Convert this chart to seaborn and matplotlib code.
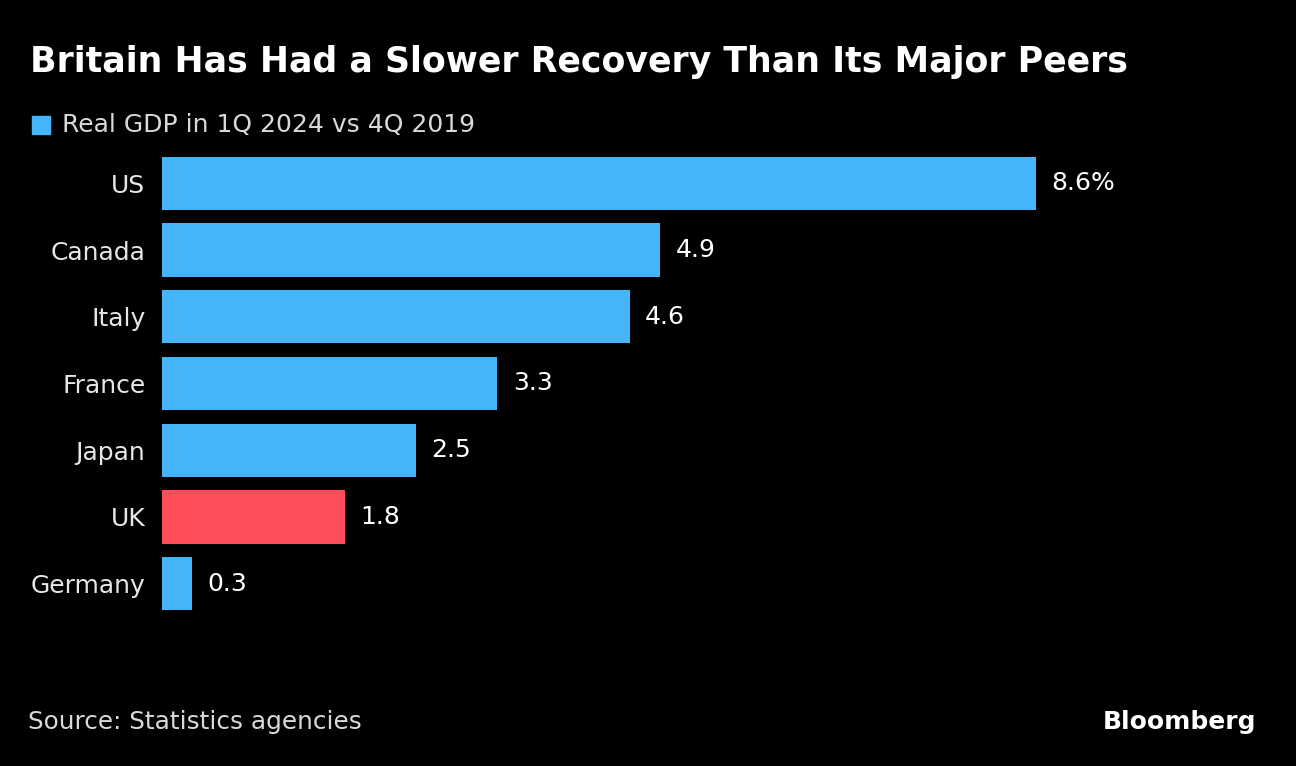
import matplotlib.pyplot as plt
import seaborn as sns
import pandas as pd

countries = ["US", "Canada", "Italy", "France", "Japan", "UK", "Germany"]
gdp_change = [8.6, 4.9, 4.6, 3.3, 2.5, 1.8, 0.3]
value_labels = ["8.6%", "4.9", "4.6", "3.3", "2.5", "1.8", "0.3"]

blue = "#45b4f9"
red = "#ff4d5a"
colors = [red if c == "UK" else blue for c in countries]

df = pd.DataFrame({"country": countries, "value": gdp_change})

sns.set_style("dark")
plt.rcParams['font.family'] = ['DejaVu Sans']

fig = plt.figure(figsize=(12.96, 7.66), dpi=100, facecolor="black")
ax = fig.add_axes([0.125, 0.1945, 0.847, 0.6097])
ax.set_facecolor("black")

sns.barplot(data=df, x="value", y="country", hue="country", palette=colors,
            legend=False, width=0.8, ax=ax, saturation=1, linewidth=0)

for i, (v, lab) in enumerate(zip(gdp_change, value_labels)):
    ax.text(v + 0.15, i, lab, color="white", fontsize=18, va="center", ha="left")

ax.set_xlim(0, 10.8)
ax.set_ylim(6.5, -0.5)
ax.set_xlabel("")
ax.set_ylabel("")
ax.set_xticks([])
ax.tick_params(axis="y", length=0, pad=12, labelsize=18, labelcolor="#e6e6e6")
for s in ax.spines.values():
    s.set_visible(False)
ax.grid(False)

fig.text(30 / 1296, 1 - 62 / 766, "Britain Has Had a Slower Recovery Than Its Major Peers",
         color="white", fontsize=25, fontweight="heavy", va="center", ha="left")
fig.patches.append(plt.Rectangle((32 / 1296, 1 - 134 / 766), 18 / 1296, 18 / 766,
                                 transform=fig.transFigure, color=blue))
fig.text(62 / 1296, 1 - 125 / 766, "Real GDP in 1Q 2024 vs 4Q 2019",
         color="#d9d9d9", fontsize=18, va="center", ha="left")
fig.text(28 / 1296, 1 - 722 / 766, "Source: Statistics agencies",
         color="#d9d9d9", fontsize=17.8, va="center", ha="left")
fig.text(1256 / 1296, 1 - 722 / 766, "Bloomberg",
         color="white", fontsize=18, fontweight="bold", va="center", ha="right")

fig.savefig("out.png", dpi=100, facecolor="black")
